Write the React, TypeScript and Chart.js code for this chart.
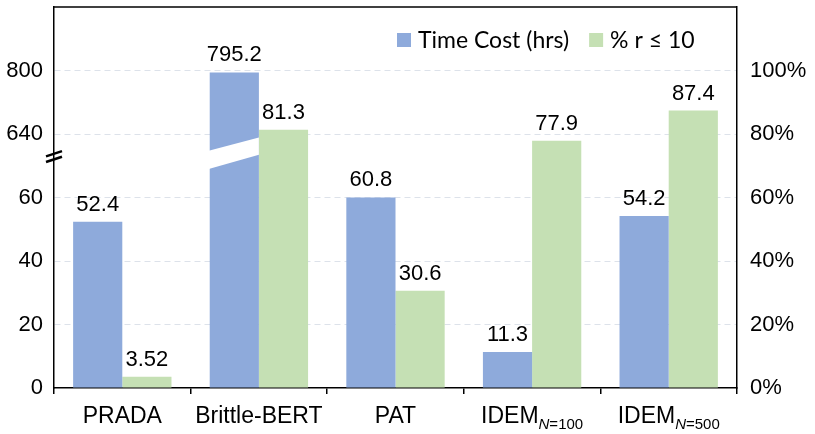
import React, { useEffect, useRef } from "react";
import { Chart, registerables } from "chart.js";

Chart.register(...registerables);

// values
const categories = ["PRADA", "Brittle-BERT", "PAT", "IDEM", "IDEM"];
const subscripts = ["", "", "", "N=100", "N=500"];
const timeCost = [52.4, 795.2, 60.8, 11.3, 54.2];
const recallShare = [3.52, 81.3, 30.6, 77.9, 87.4];
const leftTicks = [0, 20, 40, 60, 640, 800];
const rightTicks = [0, 20, 40, 60, 80, 100];

const blue = "#8eaadb";
const green = "#c5e0b4";
const FONT = "'Liberation Sans', Arial, sans-serif";
const LEGEND_FONT = "Lato, 'Open Sans', sans-serif";

// broken left axis: each tick interval takes 20 units of the shared 0..120 scale
const toAxis = (v: number) => {
  for (let i = 0; i < leftTicks.length - 1; i++) {
    if (v <= leftTicks[i + 1]) {
      return 20 * i + (20 * (v - leftTicks[i])) / (leftTicks[i + 1] - leftTicks[i]);
    }
  }
  return 20 * (leftTicks.length - 1);
};

const dropTopTick = (s: any) => {
  s.ticks = s.ticks.filter((t: any) => t.value <= 100);
};

const fixSide = (w: number) => (s: any) => {
  s.width = w;
  s.paddingTop = 0;
  s.paddingBottom = 0;
};

const decorations = {
  id: "decorations",
  afterDatasetsDraw(chart: any) {
    const { ctx, scales } = chart;
    const y = scales.y;

    // white gap through the Brittle-BERT bar
    const bb = chart.getDatasetMeta(0).data[1];
    const x0 = bb.x - bb.width / 2;
    const x1 = bb.x + bb.width / 2;
    ctx.save();
    ctx.fillStyle = "#fff";
    ctx.beginPath();
    ctx.moveTo(x0 - 1, y.getPixelForValue(69));
    ctx.lineTo(x1, y.getPixelForValue(73.5));
    ctx.lineTo(x1, y.getPixelForValue(78.9));
    ctx.lineTo(x0 - 1, y.getPixelForValue(74.7));
    ctx.closePath();
    ctx.fill();

    // value labels
    ctx.font = `22px ${FONT}`;
    ctx.fillStyle = "#000";
    ctx.textAlign = "center";
    ctx.textBaseline = "alphabetic";
    [timeCost, recallShare].forEach((vals, di) => {
      chart.getDatasetMeta(di).data.forEach((bar: any, i: number) => {
        ctx.fillText(String(vals[i]), bar.x, bar.y - 11);
      });
    });
    ctx.restore();
  },
  afterDraw(chart: any) {
    const { ctx, chartArea, scales } = chart;
    const y = scales.y;
    const x = scales.x;
    ctx.save();

    // top frame line
    ctx.strokeStyle = "#000";
    ctx.lineWidth = 1.5;
    ctx.beginPath();
    ctx.moveTo(chartArea.left, chartArea.top);
    ctx.lineTo(chartArea.right, chartArea.top);
    ctx.stroke();

    // axis break mark
    const bx = chartArea.left;
    const by = y.getPixelForValue(72.9);
    ctx.lineWidth = 2.5;
    for (const off of [-2.8, 2.8]) {
      ctx.beginPath();
      ctx.moveTo(bx - 8, by + off + 2.6);
      ctx.lineTo(bx + 8, by + off - 2.6);
      ctx.stroke();
    }

    // category labels with subscripts
    ctx.fillStyle = "#000";
    ctx.textBaseline = "alphabetic";
    ctx.textAlign = "left";
    categories.forEach((name, i) => {
      const cx = x.getPixelForValue(i);
      const base = chartArea.bottom + 35;
      ctx.font = `23px ${FONT}`;
      const w1 = ctx.measureText(name).width;
      let w2 = 0;
      const sub = subscripts[i];
      if (sub) {
        ctx.font = `italic 15px ${FONT}`;
        w2 += ctx.measureText(sub[0]).width;
        ctx.font = `15px ${FONT}`;
        w2 += ctx.measureText(sub.slice(1)).width;
      }
      let sx = cx - (w1 + w2) / 2;
      ctx.font = `23px ${FONT}`;
      ctx.fillText(name, sx, base);
      sx += w1;
      if (sub) {
        ctx.font = `italic 15px ${FONT}`;
        ctx.fillText(sub[0], sx, base + 6);
        sx += ctx.measureText(sub[0]).width;
        ctx.font = `15px ${FONT}`;
        ctx.fillText(sub.slice(1), sx, base + 6);
      }
    });

    // legend inside the plot, top right
    ctx.font = `23px ${LEGEND_FONT}`;
    ctx.textBaseline = "middle";
    const ly = chartArea.top + 33;
    let lx = chartArea.right - 340;
    chart.data.datasets.forEach((ds: any) => {
      ctx.fillStyle = ds.backgroundColor;
      ctx.fillRect(lx, ly - 7, 14, 14);
      ctx.fillStyle = "#000";
      ctx.fillText(ds.label, lx + 21, ly + 1);
      lx += 21 + ctx.measureText(ds.label).width + 20;
    });
    ctx.restore();
  },
};

export default function App() {
  const canvasRef = useRef<HTMLCanvasElement>(null);
  const chartRef = useRef<Chart | null>(null);

  useEffect(() => {
    document.body.style.margin = "0";
    if (!canvasRef.current) return;
    Chart.defaults.font.family = FONT;
    Chart.defaults.color = "#000";

    chartRef.current = new Chart(canvasRef.current, {
      type: "bar",
      data: {
        labels: categories,
        datasets: [
          {
            label: "Time Cost (hrs)",
            data: timeCost.map(toAxis),
            backgroundColor: blue,
            yAxisID: "y",
          },
          {
            label: "% r \u2264 10",
            data: recallShare,
            backgroundColor: green,
            yAxisID: "y1",
          },
        ],
      },
      options: {
        animation: false,
        responsive: true,
        maintainAspectRatio: false,
        layout: { padding: { top: 7, left: 0, right: 0, bottom: 0 } },
        datasets: {
          bar: { categoryPercentage: 0.72, barPercentage: 1 },
        },
        plugins: {
          legend: { display: false },
          tooltip: { enabled: false },
        },
        scales: {
          x: {
            offset: true,
            ticks: { display: false },
            grid: {
              offset: true,
              drawOnChartArea: false,
              drawTicks: true,
              tickLength: 6,
              color: "#000",
              lineWidth: 1.5,
            },
            border: { color: "#000", width: 1.5 },
            afterFit: (s: any) => {
              s.height = 46;
              s.paddingLeft = 0;
              s.paddingRight = 0;
            },
          },
          y: {
            position: "left",
            min: 0,
            max: 120,
            afterBuildTicks: dropTopTick,
            ticks: {
              stepSize: 20,
              padding: 11,
              font: { size: 22 },
              callback: (_v: any, i: number) =>
                leftTicks[i] !== undefined ? String(leftTicks[i]) : "",
            },
            grid: {
              drawTicks: false,
              color: (c: any) =>
                c.tick && c.tick.value > 0 && c.tick.value < 120 ? "#dde2ea" : "transparent",
              lineWidth: 1,
            },
            border: { color: "#000", width: 1.5, dash: [6, 4] },
            afterFit: fixSide(54),
          },
          y1: {
            position: "right",
            min: 0,
            max: 120,
            afterBuildTicks: dropTopTick,
            ticks: {
              stepSize: 20,
              padding: 13,
              font: { size: 22 },
              callback: (_v: any, i: number) =>
                rightTicks[i] !== undefined ? `${rightTicks[i]}%` : "",
            },
            grid: { drawOnChartArea: false, drawTicks: false },
            border: { color: "#000", width: 1.5 },
            afterFit: fixSide(78),
          },
        },
      },
      plugins: [decorations],
    });

    return () => {
      chartRef.current?.destroy();
      chartRef.current = null;
    };
  }, []);

  return (
    <div style={{ position: "relative", width: 815, height: 434 }}>
      <canvas ref={canvasRef}></canvas>
    </div>
  );
}
